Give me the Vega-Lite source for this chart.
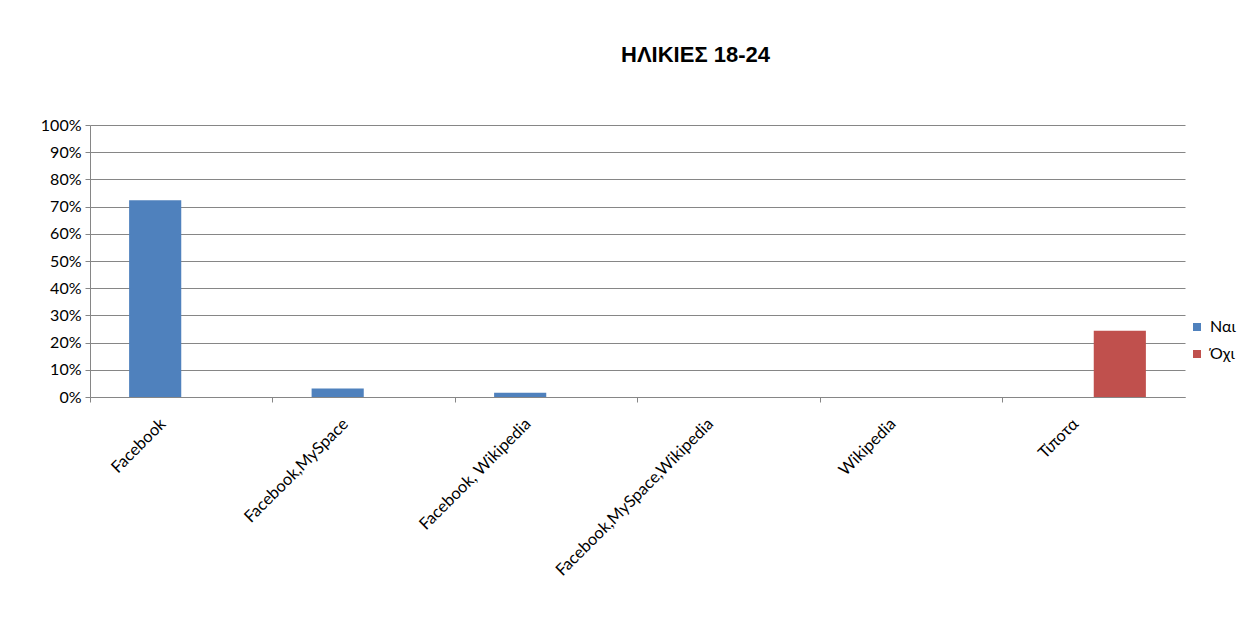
{
  "$schema": "https://vega.github.io/schema/vega-lite/v6.json",
  "width": 1095,
  "height": 272,
  "autosize": {"type": "none"},
  "padding": {"left": 90, "top": 125, "right": 64, "bottom": 227},
  "background": "white",
  "title": {
    "text": "ΗΛΙΚΙΕΣ 18-24",
    "font": "Liberation Sans",
    "fontSize": 22,
    "fontWeight": "bold",
    "color": "black",
    "anchor": "middle",
    "dx": 58,
    "offset": 50
  },
  "data": {
    "values": [
      {"category": "Facebook", "answer": "Ναι", "value": 0.723},
      {"category": "Facebook", "answer": "Όχι", "value": 0},
      {"category": "Facebook,MySpace", "answer": "Ναι", "value": 0.031},
      {"category": "Facebook,MySpace", "answer": "Όχι", "value": 0},
      {"category": "Facebook, Wikipedia", "answer": "Ναι", "value": 0.016},
      {"category": "Facebook, Wikipedia", "answer": "Όχι", "value": 0},
      {"category": "Facebook,MySpace,Wikipedia", "answer": "Ναι", "value": 0},
      {"category": "Facebook,MySpace,Wikipedia", "answer": "Όχι", "value": 0},
      {"category": "Wikipedia", "answer": "Ναι", "value": 0},
      {"category": "Wikipedia", "answer": "Όχι", "value": 0},
      {"category": "Τίποτα", "answer": "Ναι", "value": 0},
      {"category": "Τίποτα", "answer": "Όχι", "value": 0.244}
    ]
  },
  "mark": {"type": "bar"},
  "encoding": {
    "x": {
      "field": "category",
      "type": "nominal",
      "sort": ["Facebook", "Facebook,MySpace", "Facebook, Wikipedia", "Facebook,MySpace,Wikipedia", "Wikipedia", "Τίποτα"],
      "scale": {"paddingInner": 0, "paddingOuter": 0},
      "axis": {
        "title": null,
        "bandPosition": 0,
        "labelOffset": -18,
        "labelAngle": -45,
        "labelAlign": "right",
        "labelBaseline": "middle",
        "labelPadding": 19,
        "labelLimit": 400,
        "labelFont": "Lato",
        "labelFontSize": 16.5,
        "labelColor": "black",
        "domainColor": "#868686",
        "tickColor": "#868686",
        "tickSize": 5,
        "grid": false
      }
    },
    "xOffset": {
      "field": "answer",
      "type": "nominal",
      "scale": {"domain": ["Ναι", "Όχι"], "paddingInner": 0, "paddingOuter": 0.75}
    },
    "y": {
      "field": "value",
      "type": "quantitative",
      "scale": {"domain": [0, 1], "nice": false},
      "axis": {
        "title": null,
        "format": ".0%",
        "values": [0, 0.1, 0.2, 0.3, 0.4, 0.5, 0.6, 0.7, 0.8, 0.9, 1],
        "labelFont": "Lato",
        "labelFontSize": 16,
        "labelColor": "black",
        "labelPadding": 4,
        "domainColor": "#868686",
        "tickColor": "#868686",
        "tickSize": 5,
        "gridColor": "#868686",
        "gridWidth": 1
      }
    },
    "color": {
      "field": "answer",
      "type": "nominal",
      "scale": {"domain": ["Ναι", "Όχι"], "range": ["#4F81BD", "#C0504D"]},
      "legend": {
        "title": null,
        "orient": "none",
        "legendX": 1099,
        "legendY": 194,
        "symbolType": "square",
        "symbolSize": 64,
        "symbolStrokeWidth": 0,
        "labelFont": "Lato",
        "labelFontSize": 16,
        "labelColor": "black",
        "rowPadding": 11,
        "labelOffset": 5
      }
    }
  },
  "config": {
    "view": {"stroke": null}
  }
}
